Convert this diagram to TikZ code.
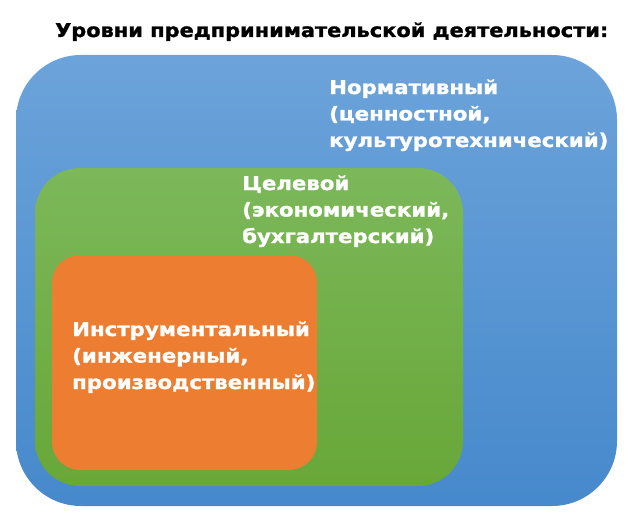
\documentclass[tikz,border=0pt]{standalone}
\usepackage{fontspec}
\setmainfont{Liberation Sans}
\newfontfamily\heavy[FakeStretch=1.12,FakeBold=1.2]{DejaVu Sans Bold}
\newfontfamily\heavytitle[FakeStretch=1.10,FakeBold=1.4]{DejaVu Sans Bold}
\definecolor{bluetop}{RGB}{108,163,218}
\definecolor{bluebot}{RGB}{70,137,204}
\definecolor{greentop}{RGB}{124,184,90}
\definecolor{greenbot}{RGB}{104,167,56}
\definecolor{orangefill}{RGB}{237,125,49}
\tikzset{
  levelbox/.style={rectangle, inner sep=0pt, outer sep=0pt, draw=none},
  boxlabel/.style={anchor=base west, align=left, inner sep=0pt, text=white,
    font=\heavy\fontsize{19}{26.5}\selectfont},
}
\begin{document}
\begin{tikzpicture}[x=1pt,y=-1pt]
\useasboundingbox[fill=white] (0,0) rectangle (640,516);
\node[levelbox, top color=bluetop, bottom color=bluebot, rounded corners=65pt,
  minimum width=601pt, minimum height=451pt] (blue) at (316.5,280.5) {};
\node[levelbox, top color=greentop, bottom color=greenbot, rounded corners=45pt,
  minimum width=428pt, minimum height=318pt] (green) at (249,327) {};
\node[levelbox, fill=orangefill, rounded corners=28pt,
  minimum width=265pt, minimum height=215pt] (orange) at (184.5,362.5) {};
\node[anchor=base west, inner sep=0pt, font=\heavytitle\fontsize{19}{24}\selectfont] (title) at (55,37)
  {Уровни предпринимательской деятельности:};
\node[boxlabel] (bluelabel) at (329,147) {Нормативный\\(ценностной,\\культуротехнический)};
\node[boxlabel] (greenlabel) at (242,243) {Целевой\\(экономический,\\бухгалтерский)};
\node[boxlabel] (orangelabel) at (72,389) {Инструментальный\\(инженерный,\\производственный)};
\end{tikzpicture}
\end{document}
